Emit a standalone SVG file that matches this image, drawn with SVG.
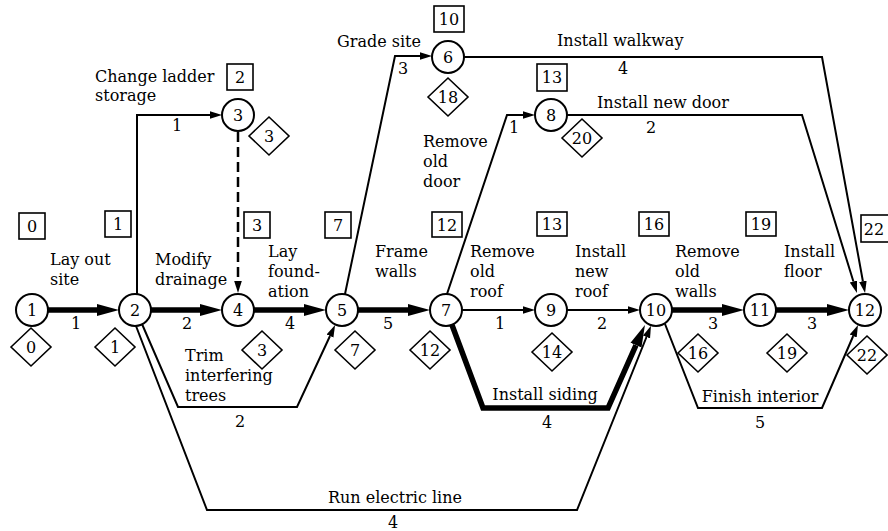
<svg xmlns="http://www.w3.org/2000/svg" width="888" height="531" viewBox="0 0 888 531">
<style>
text{font-family:"DejaVu Serif","Liberation Serif",serif;font-size:16px;fill:#000}
.c{text-anchor:middle}
.node circle{fill:#fff;stroke:#000;stroke-width:2}
.box{fill:#fff;stroke:#000;stroke-width:1.6}
.dia{fill:#fff;stroke:#000;stroke-width:1.6}
.thin{fill:none;stroke:#000;stroke-width:2;marker-end:url(#as)}
.thick{fill:none;stroke:#000;stroke-width:5.5;marker-end:url(#ab)}
.dash{fill:none;stroke:#000;stroke-width:2.5;stroke-dasharray:10 5;marker-end:url(#as)}
</style>
<defs>
<marker id="ab" markerUnits="userSpaceOnUse" markerWidth="24" markerHeight="14" viewBox="0 -7 24 14" refX="0" refY="0" orient="auto"><path d="M0,-6 L22,0 L0,6 z" fill="#000"/></marker>
<marker id="as" markerUnits="userSpaceOnUse" markerWidth="14" markerHeight="10" viewBox="0 -5 14 10" refX="0" refY="0" orient="auto"><path d="M0,-3.8 L12,0 L0,3.8 z" fill="#000"/></marker>
</defs>
<rect width="888" height="531" fill="#fff"/>

<g id="connectors">
<path class="thick" d="M48,310 H97"/>
<path class="thick" d="M151,310 H200"/>
<path class="thick" d="M254,310 H304"/>
<path class="thick" d="M358,310 H408"/>
<path class="thin" d="M462,310 H523"/>
<path class="thin" d="M567,310 H628"/>
<path class="thick" d="M672,310 H722"/>
<path class="thick" d="M776,310 H827"/>
<path class="thin" d="M137,294 V115 H210"/>
<path class="dash" d="M238,132 V281"/>
<path class="thin" d="M142,324 L178,407 H297 L330,336"/>
<path class="thin" d="M136,326 L207,510 H577 L646.5,337"/>
<path class="thin" d="M345,294 L395,56 H420"/>
<path class="thin" d="M447,294 L507,115 H523"/>
<path class="thin" d="M464,57 H822 L862.9,281.2"/>
<path class="thin" d="M567,115 H802 L853.4,281.5"/>
<path class="thick" d="M452,325 L483,408 H608 L636,345.1"/>
<path class="thin" d="M665,324 L698,408 H822 L853.2,336"/>
</g>

<g id="labels">
<text x="50" y="265">Lay out</text><text x="50" y="285">site</text>
<text x="155" y="265">Modify</text><text x="155" y="285">drainage</text>
<text x="268" y="257">Lay</text><text x="268" y="277">found-</text><text x="268" y="297">ation</text>
<text x="95" y="82">Change ladder</text><text x="95" y="101">storage</text>
<text x="337" y="47">Grade site</text>
<text x="557" y="46">Install walkway</text>
<text x="597" y="108">Install new door</text>
<text x="423" y="147">Remove</text><text x="423" y="167">old</text><text x="423" y="187">door</text>
<text x="375" y="257">Frame</text><text x="375" y="277">walls</text>
<text x="470" y="257">Remove</text><text x="470" y="277">old</text><text x="470" y="297">roof</text>
<text x="575" y="257">Install</text><text x="575" y="277">new</text><text x="575" y="297">roof</text>
<text x="675" y="257">Remove</text><text x="675" y="277">old</text><text x="675" y="297">walls</text>
<text x="784" y="257">Install</text><text x="784" y="277">floor</text>
<text x="185" y="361">Trim</text><text x="185" y="381">interfering</text><text x="185" y="401">trees</text>
<text class="c" x="545" y="400">Install siding</text>
<text class="c" x="760" y="402">Finish interior</text>
<text class="c" x="395" y="503">Run electric line</text>
<text class="c" x="76" y="329">1</text>
<text class="c" x="187" y="329">2</text>
<text class="c" x="290" y="329">4</text>
<text class="c" x="388" y="329">5</text>
<text class="c" x="500" y="329">1</text>
<text class="c" x="602" y="329">2</text>
<text class="c" x="713" y="329">3</text>
<text class="c" x="812" y="329">3</text>
<text class="c" x="177" y="131">1</text>
<text class="c" x="403" y="74">3</text>
<text class="c" x="623" y="74">4</text>
<text class="c" x="514" y="133">1</text>
<text class="c" x="651" y="133">2</text>
<text class="c" x="240" y="427">2</text>
<text class="c" x="547" y="428">4</text>
<text class="c" x="760" y="428">5</text>
<text class="c" x="393" y="528">4</text>
</g>

<g id="early-times">
<rect class="box" x="19" y="213" width="26" height="26"/><text class="c" x="32" y="232">0</text>
<rect class="box" x="105" y="211" width="26" height="26"/><text class="c" x="118" y="230">1</text>
<rect class="box" x="227" y="64" width="26" height="26"/><text class="c" x="240" y="83">2</text>
<rect class="box" x="244" y="212" width="26" height="26"/><text class="c" x="257" y="231">3</text>
<rect class="box" x="325" y="212" width="26" height="26"/><text class="c" x="338" y="231">7</text>
<rect class="box" x="434" y="6" width="30" height="26"/><text class="c" x="449" y="25">10</text>
<rect class="box" x="432" y="212" width="30" height="25"/><text class="c" x="447" y="231">12</text>
<rect class="box" x="537" y="64" width="30" height="27"/><text class="c" x="552" y="83">13</text>
<rect class="box" x="537" y="212" width="30" height="24"/><text class="c" x="552" y="230">13</text>
<rect class="box" x="639" y="212" width="30" height="24"/><text class="c" x="654" y="230">16</text>
<rect class="box" x="746" y="212" width="30" height="24"/><text class="c" x="761" y="230">19</text>
<rect class="box" x="861" y="215" width="28" height="27"/><text class="c" x="874" y="235">22</text>
</g>

<g id="late-times">
<polygon class="dia" points="11,347 31,328 51,347 31,366"/><text class="c" x="31" y="353">0</text>
<polygon class="dia" points="95,347 115,328 135,347 115,366"/><text class="c" x="115" y="353">1</text>
<polygon class="dia" points="242,350 262,331 282,350 262,369"/><text class="c" x="262" y="356">3</text>
<polygon class="dia" points="249,136 269,117 289,136 269,155"/><text class="c" x="269" y="142">3</text>
<polygon class="dia" points="335,350 355,331 375,350 355,369"/><text class="c" x="355" y="356">7</text>
<polygon class="dia" points="410,350 430,331 450,350 430,369"/><text class="c" x="430" y="356">12</text>
<polygon class="dia" points="428,97 448,78 468,97 448,116"/><text class="c" x="448" y="103">18</text>
<polygon class="dia" points="562,138 582,119 602,138 582,157"/><text class="c" x="582" y="144">20</text>
<polygon class="dia" points="532,352 552,333 572,352 552,371"/><text class="c" x="552" y="358">14</text>
<polygon class="dia" points="678,353 698,334 718,353 698,372"/><text class="c" x="698" y="359">16</text>
<polygon class="dia" points="767,353 787,334 807,353 787,372"/><text class="c" x="787" y="359">19</text>
<polygon class="dia" points="847,355 867,336 887,355 867,374"/><text class="c" x="867" y="361">22</text>
</g>

<g id="n1" class="node"><circle cx="32" cy="310" r="16"/><text class="c" x="32" y="316">1</text></g>
<g id="n2" class="node"><circle cx="135" cy="310" r="16"/><text class="c" x="135" y="316">2</text></g>
<g id="n3" class="node"><circle cx="238" cy="115" r="16"/><text class="c" x="238" y="121">3</text></g>
<g id="n4" class="node"><circle cx="238" cy="310" r="16"/><text class="c" x="238" y="316">4</text></g>
<g id="n5" class="node"><circle cx="342" cy="310" r="16"/><text class="c" x="342" y="316">5</text></g>
<g id="n6" class="node"><circle cx="448" cy="57" r="16"/><text class="c" x="448" y="63">6</text></g>
<g id="n7" class="node"><circle cx="446" cy="310" r="16"/><text class="c" x="446" y="316">7</text></g>
<g id="n8" class="node"><circle cx="551" cy="115" r="16"/><text class="c" x="551" y="121">8</text></g>
<g id="n9" class="node"><circle cx="551" cy="310" r="16"/><text class="c" x="551" y="316">9</text></g>
<g id="n10" class="node"><circle cx="656" cy="310" r="16"/><text class="c" x="656" y="316">10</text></g>
<g id="n11" class="node"><circle cx="760" cy="310" r="16"/><text class="c" x="760" y="316">11</text></g>
<g id="n12" class="node"><circle cx="865" cy="310" r="16"/><text class="c" x="865" y="316">12</text></g>
</svg>
